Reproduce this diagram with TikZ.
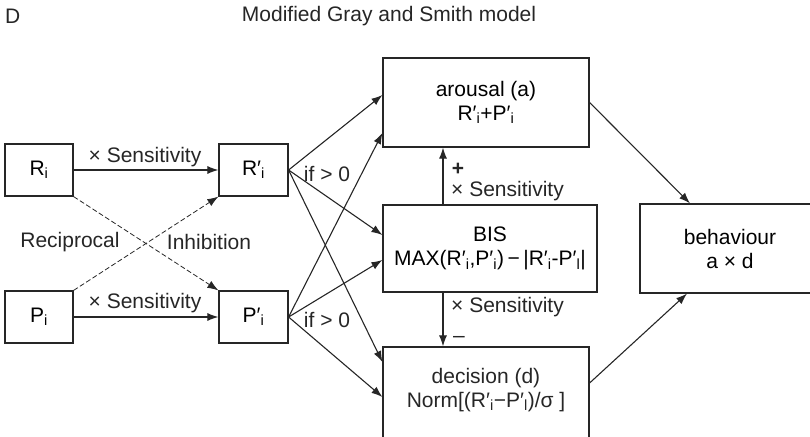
\documentclass[tikz,border=0pt]{standalone}
\usepackage{fontspec}
\setmainfont{Liberation Sans}
\usetikzlibrary{arrows.meta}
\begin{document}
\begin{tikzpicture}[x=1pt,y=-1pt,
  font=\fontsize{21}{24}\selectfont,
  box/.style={draw=black!85, line width=1.2pt, inner sep=0pt, align=center},
  lbl/.style={inner sep=0pt, text=black!85},
  arr/.style={line width=1.1pt, draw=black!85, -{Latex[length=11pt,width=8pt]}},
  dsh/.style={line width=0.8pt, draw=black!85, dash pattern=on 5pt off 2.5pt, -{Latex[length=11pt,width=8pt]}}]
\useasboundingbox (0,0) rectangle (810,436);
\clip (0,0) rectangle (810,436);
% title
\node[lbl, anchor=west] (tD) at (5,16) {D};
\node[lbl] (title) at (389,16) {Modified Gray and Smith model};
% boxes
\node[box, minimum width=68pt, minimum height=52pt] (R) at (39,170) {R\textsubscript{i}};
\node[box, minimum width=68pt, minimum height=52pt] (P) at (39,317) {P\textsubscript{i}};
\node[box, minimum width=69pt, minimum height=52pt] (Rp) at (253.5,170) {R′\textsubscript{i}};
\node[box, minimum width=69pt, minimum height=52pt] (Pp) at (253.5,317) {P′\textsubscript{i}};
\node[box, minimum width=206pt, minimum height=89pt] (ar) at (486,102.5) {arousal (a)\\R′\textsubscript{i}+P′\textsubscript{i}};
\node[box, minimum width=214pt, minimum height=87pt] (bis) at (490,248.5) {BIS\\MAX(R′\textsubscript{i},P′\textsubscript{i})\,−\,|R′\textsubscript{i}-P′\textsubscript{l}|};
\node[box, minimum width=206pt, minimum height=100pt] (dec) at (486,397) {};
\node[lbl, align=center] (dectext) at (486,390) {decision (d)\\Norm[(R′\textsubscript{i}−P′\textsubscript{l})/σ ]};
\node[box, minimum width=180pt, minimum height=89pt] (beh) at (730,248.5) {behaviour\\a × d};
% left arrows
\draw[arr] (R) -- (Rp);
\draw[arr] (P.east) -- (Pp.west);
\draw[dsh] (R.south east) -- (Pp.north west);
\draw[dsh] (P.north east) -- (Rp.south west);
\node[lbl] (s1) at (145,157) {× Sensitivity};
\node[lbl] (s2) at (145,303) {× Sensitivity};
\node[lbl] (rec) at (70,242) {Reciprocal};
\node[lbl] (inh) at (209,242) {Inhibition};
% fan out
\draw[arr] (Rp.east) -- ([yshift=7.5pt]ar.west);
\draw[arr] (Rp.east) -- ([yshift=13.5pt]bis.west);
\draw[arr] (Rp.east) -- ([yshift=35pt]dec.west);
\draw[arr] (Pp.east) -- ([yshift=-30.5pt]ar.west);
\draw[arr] (Pp.east) -- ([yshift=-11.5pt]bis.west);
\draw[arr] (Pp.east) -- (dec.west);
\node[lbl] (if1) at (327,174) {if > 0};
\node[lbl] (if2) at (327,320) {if > 0};
% BIS arrows
\draw[arr] ([xshift=-47pt]bis.north) -- ([xshift=-43pt]ar.south);
\draw[arr] ([xshift=-47pt]bis.south) -- ([xshift=-43pt]dec.north);
\node[lbl] (plus) at (458,169) {\textbf{+}};
\node[lbl, anchor=west] (s3) at (451,191) {× Sensitivity};
\node[lbl, anchor=west] (s4) at (451,307) {× Sensitivity};
\node[lbl] (minus) at (459,339) {–};
% to behaviour
\draw[arr] (ar.east) -- ([xshift=-40pt]beh.north);
\draw[arr] ([yshift=14pt]dec.east) -- ([xshift=-43pt]beh.south);
\end{tikzpicture}
\end{document}
